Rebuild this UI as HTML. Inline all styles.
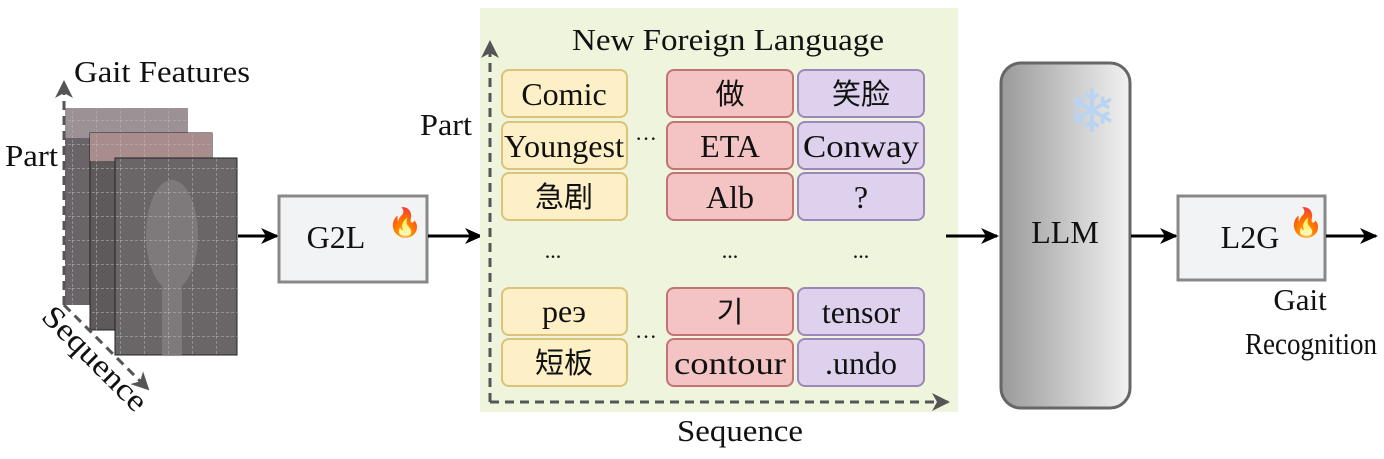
<!DOCTYPE html>
<html><head><meta charset="utf-8"><style>
body{margin:0;background:#fff;width:1384px;height:454px;overflow:hidden}
text{font-family:"Liberation Serif","Noto Serif CJK SC",serif;fill:#111}
.cjk{font-family:"Noto Sans CJK SC","WenQuanYi Zen Hei",sans-serif}
</style></head><body>
<svg width="1384" height="454" viewBox="0 0 1384 454" xmlns="http://www.w3.org/2000/svg">
<defs>
<marker id="ah" markerWidth="18" markerHeight="16" refX="16" refY="8" orient="auto" markerUnits="userSpaceOnUse"><path d="M0,0 L18,8 L0,16 L5,8z" fill="#000"/></marker>
<marker id="ag" markerWidth="18" markerHeight="18" refX="16" refY="9" orient="auto" markerUnits="userSpaceOnUse"><path d="M0,0 L18,9 L0,18 L5,9z" fill="#555"/></marker>
<linearGradient id="lg" x1="0" x2="1"><stop offset="0" stop-color="#9a9a9a"/><stop offset="1" stop-color="#f2f2f2"/></linearGradient>
<pattern id="grid" width="24" height="24" patternUnits="userSpaceOnUse"><path d="M0,0 H24 M0,0 V24" stroke="#bbb" stroke-width="1" stroke-dasharray="3,2" fill="none"/></pattern>
</defs>
<rect x="65" y="108" width="123" height="197" fill="#6a6468"/>
<rect x="65" y="108" width="123" height="30" fill="#9c9296"/>
<rect x="65" y="108" width="123" height="197" fill="url(#grid)"/>
<rect x="90" y="133" width="122" height="197" fill="#5e5a5c" stroke="#222" stroke-width="1"/>
<rect x="90" y="133" width="122" height="28" fill="#a88d8c"/>
<rect x="90" y="133" width="122" height="197" fill="url(#grid)"/>
<rect x="115" y="158" width="122" height="197" fill="#6a6668" stroke="#222" stroke-width="1"/>
<ellipse cx="172" cy="235" rx="26" ry="55" fill="#7e797b"/>
<rect x="162" y="280" width="20" height="75" fill="#7e797b"/>
<rect x="115" y="158" width="122" height="197" fill="url(#grid)"/>
<line x1="64" y1="305" x2="64" y2="82" stroke="#555" stroke-width="3" stroke-dasharray="9,6" marker-end="url(#ag)"/>
<line x1="64" y1="305" x2="148" y2="389" stroke="#555" stroke-width="3" stroke-dasharray="9,6" marker-end="url(#ag)"/>
<text x="74" y="82" font-size="31" textLength="176" lengthAdjust="spacingAndGlyphs">Gait Features</text>
<text x="5" y="166" font-size="31" textLength="53" lengthAdjust="spacingAndGlyphs">Part</text>
<text x="0" y="0" font-size="31" transform="translate(40,318) rotate(45)" textLength="135" lengthAdjust="spacingAndGlyphs">Sequence</text>
<line x1="238" y1="236" x2="277" y2="236" stroke="#000" stroke-width="3" marker-end="url(#ah)"/>
<rect x="279" y="196" width="148" height="86" fill="#f2f3f5" stroke="#888" stroke-width="3"/>
<text x="336" y="248" font-size="32" text-anchor="middle">G2L</text>
<text x="405" y="232" font-size="28" text-anchor="middle">🔥</text>
<line x1="428" y1="236" x2="481" y2="236" stroke="#000" stroke-width="3" marker-end="url(#ah)"/>
<text x="420" y="135" font-size="31" textLength="52" lengthAdjust="spacingAndGlyphs">Part</text>
<rect x="480" y="8" width="478" height="404" fill="#eef5dc"/>
<text x="728" y="50" font-size="31" text-anchor="middle" textLength="312" lengthAdjust="spacingAndGlyphs">New Foreign Language</text>
<line x1="490" y1="402" x2="490" y2="42" stroke="#555" stroke-width="3" stroke-dasharray="9,6" marker-end="url(#ag)"/>
<line x1="490" y1="402" x2="948" y2="402" stroke="#555" stroke-width="3" stroke-dasharray="9,6" marker-end="url(#ag)"/>
<text x="740" y="441" font-size="31" text-anchor="middle" textLength="126" lengthAdjust="spacingAndGlyphs">Sequence</text>
<g stroke-width="2">
<g fill="#fdf0c6" stroke="#dcc27a">
<rect x="502" y="70" width="125" height="47" rx="7"/><rect x="502" y="122" width="125" height="47" rx="7"/><rect x="502" y="173" width="125" height="47" rx="7"/>
<rect x="502" y="288" width="125" height="47" rx="7"/><rect x="502" y="339" width="125" height="47" rx="7"/></g>
<g fill="#f4c4c4" stroke="#c27474">
<rect x="667" y="70" width="126" height="47" rx="7"/><rect x="667" y="122" width="126" height="47" rx="7"/><rect x="667" y="173" width="126" height="47" rx="7"/>
<rect x="667" y="288" width="126" height="47" rx="7"/><rect x="667" y="339" width="126" height="47" rx="7"/></g>
<g fill="#ddd1ee" stroke="#9c88b8">
<rect x="798" y="70" width="126" height="47" rx="7"/><rect x="798" y="122" width="126" height="47" rx="7"/><rect x="798" y="173" width="126" height="47" rx="7"/>
<rect x="798" y="288" width="126" height="47" rx="7"/><rect x="798" y="339" width="126" height="47" rx="7"/></g>
</g>
<g font-size="32" text-anchor="middle">
<text x="564" y="105">Comic</text><text x="564" y="157" textLength="120" lengthAdjust="spacingAndGlyphs">Youngest</text><text x="564" y="207" class="cjk" font-size="29">急剧</text>
<text x="564" y="322">реэ</text><text x="564" y="373" class="cjk" font-size="29">短板</text>
<text x="730" y="104" class="cjk" font-size="29">做</text><text x="730" y="157">ETA</text><text x="730" y="208">Alb</text>
<text x="730" y="322" class="cjk" font-size="29">기</text><text x="730" y="374" textLength="112" lengthAdjust="spacingAndGlyphs">contour</text>
<text x="861" y="104" class="cjk" font-size="29">笑脸</text><text x="861" y="157" textLength="116" lengthAdjust="spacingAndGlyphs">Conway</text><text x="861" y="208">?</text>
<text x="861" y="323">tensor</text><text x="861" y="374">.undo</text>
<text x="553" y="258" font-size="22">...</text><text x="730" y="258" font-size="22">...</text><text x="861" y="258" font-size="22">...</text>
<text x="646" y="146" font-size="22">···</text><text x="646" y="344" font-size="22">···</text>
</g>
<line x1="946" y1="236" x2="997" y2="236" stroke="#000" stroke-width="3" marker-end="url(#ah)"/>
<rect x="1001" y="63" width="129" height="345" rx="20" fill="url(#lg)" stroke="#666" stroke-width="3"/>
<text x="1065" y="243" font-size="32" text-anchor="middle">LLM</text>
<text x="1092" y="132" font-size="60" text-anchor="middle" style="fill:#b8d4f2">❄</text>
<line x1="1131" y1="236" x2="1176" y2="236" stroke="#000" stroke-width="3" marker-end="url(#ah)"/>
<rect x="1178" y="196" width="147" height="84" fill="#f2f3f5" stroke="#888" stroke-width="3"/>
<text x="1250" y="248" font-size="32" text-anchor="middle">L2G</text>
<text x="1306" y="232" font-size="28" text-anchor="middle">🔥</text>
<line x1="1326" y1="236" x2="1376" y2="236" stroke="#000" stroke-width="3" marker-end="url(#ah)"/>
<text x="1300" y="310" font-size="31" text-anchor="middle">Gait</text>
<text x="1311" y="354" font-size="31" text-anchor="middle" textLength="132" lengthAdjust="spacingAndGlyphs">Recognition</text>
</svg>
</body></html>
